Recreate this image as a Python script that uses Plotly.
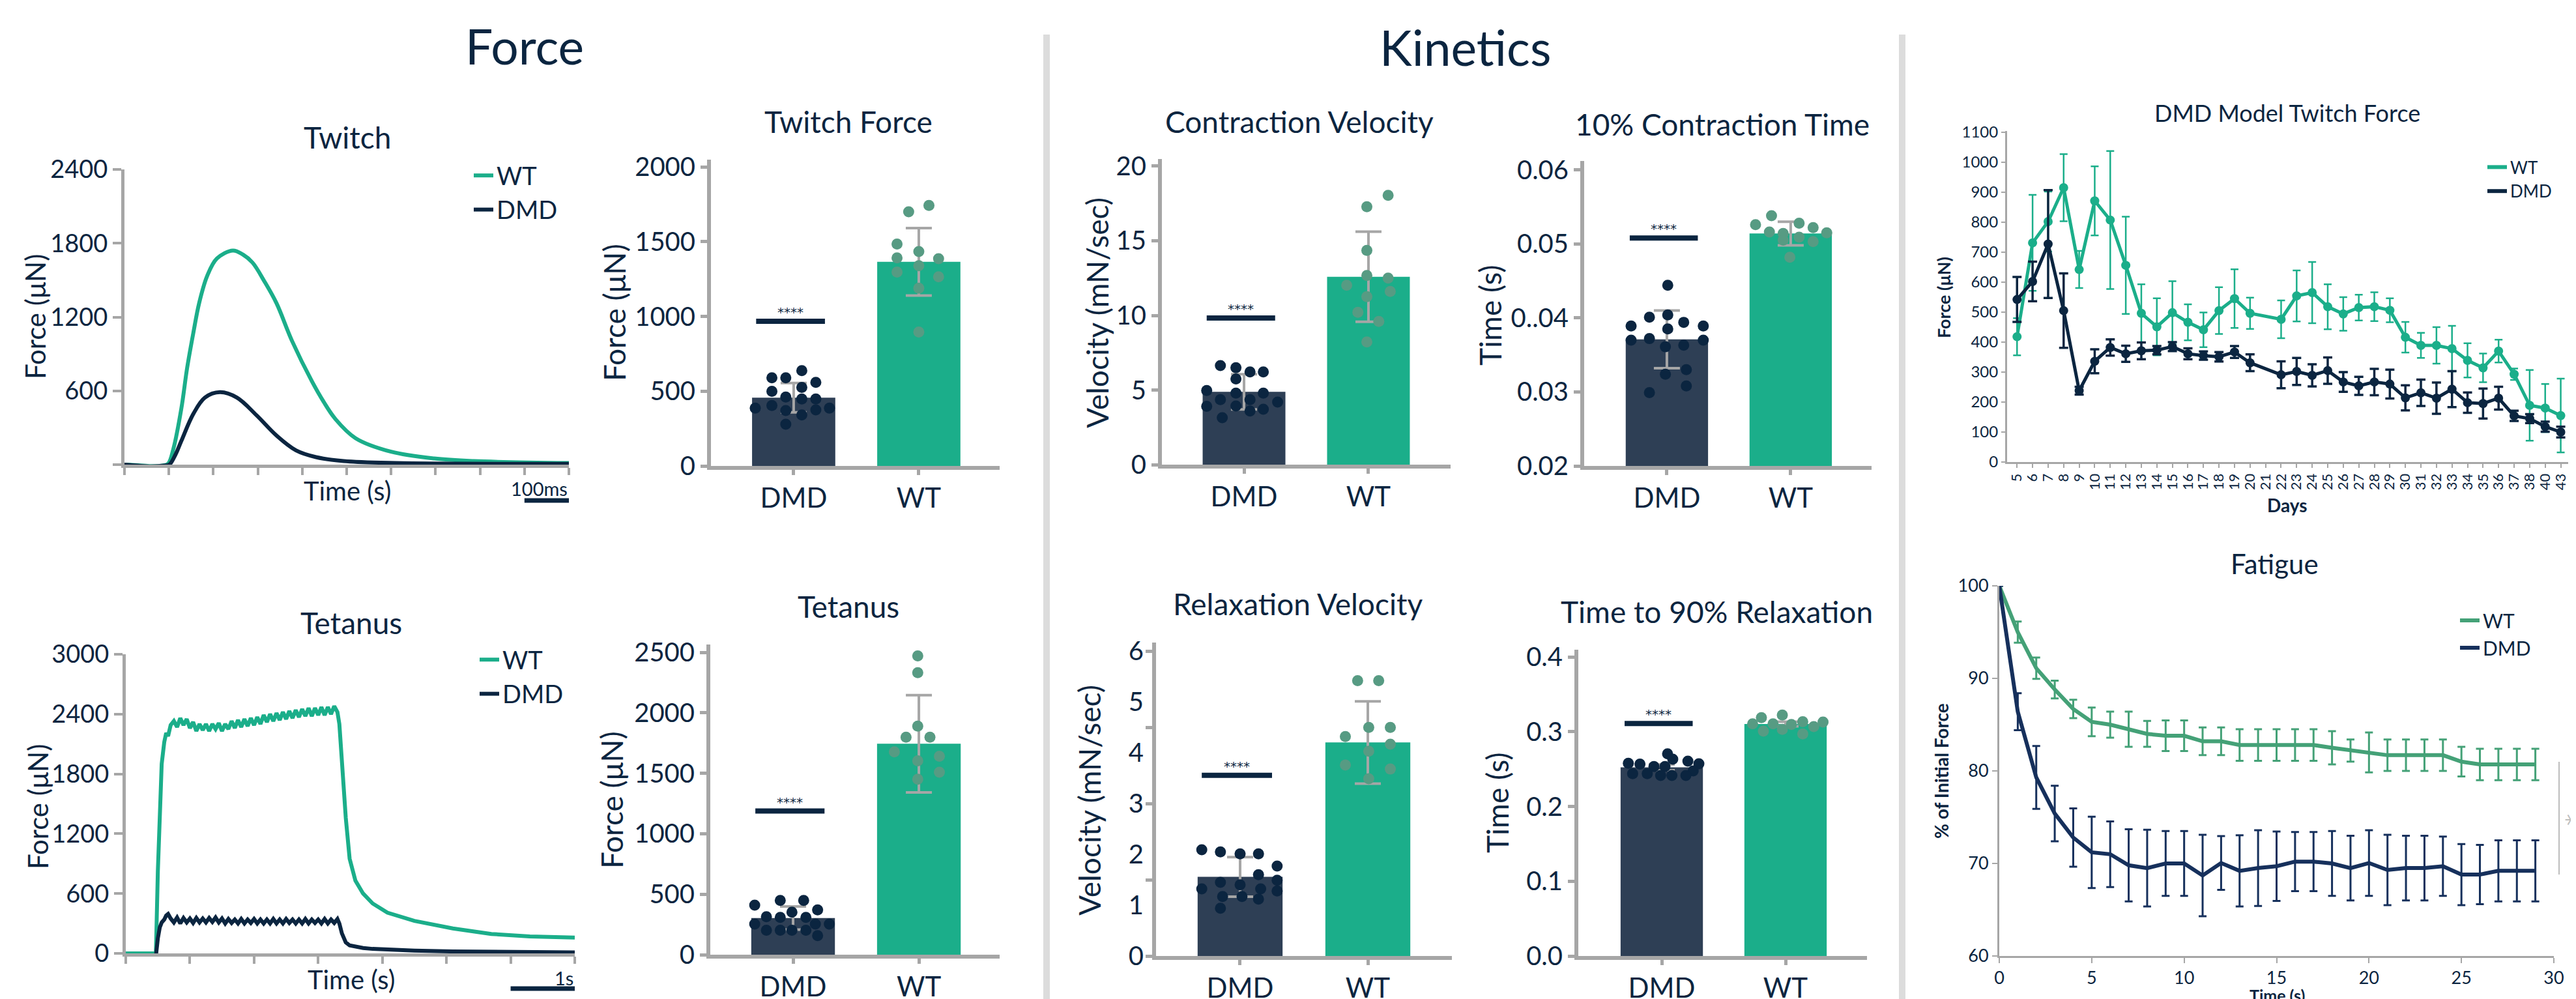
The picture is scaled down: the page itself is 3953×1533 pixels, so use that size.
import plotly.graph_objects as go

# ---------------- data ----------------
# Twitch trace (time in ms, force in uN)
twitch_wt_t = [0, 30, 60, 90, 99, 110, 128, 141, 155, 168, 186, 208, 244, 266, 288, 315, 342, 377, 422, 448, 475, 520, 600, 697, 786, 1000]
twitch_wt_f = [0, -5, -12, -5, 10, 127, 457, 786, 1072, 1313, 1533, 1676, 1741, 1709, 1643, 1489, 1313, 1006, 676, 512, 369, 215, 105, 50, 29, 13]
twitch_dmd_t = [0, 30, 60, 90, 101, 115, 128, 155, 181, 215, 253, 297, 342, 386, 431, 493, 609, 1000]
twitch_dmd_f = [0, -8, -14, -8, 0, 83, 193, 413, 545, 589, 545, 402, 237, 116, 61, 29, 13, 7]

# Tetanus trace (time in s, force in uN)
tet_t = [0.0, 0.2, 0.47, 0.50, 0.53, 0.56, 0.60, 0.63, 0.66,
         0.70, 0.75, 0.80, 0.85, 0.90, 0.95, 1.00, 1.05, 1.10, 1.15,
         1.20, 1.25, 1.30, 1.35, 1.40, 1.45, 1.50, 1.55, 1.60, 1.65,
         1.70, 1.75, 1.80, 1.85, 1.90, 1.95, 2.00, 2.05, 2.10, 2.15,
         2.20, 2.25, 2.30, 2.35, 2.40, 2.45, 2.50, 2.55, 2.60, 2.65,
         2.70, 2.75, 2.80, 2.85, 2.90, 2.95, 3.00, 3.05, 3.10, 3.15,
         3.20, 3.25, 3.30,
         3.33, 3.37, 3.43, 3.49, 3.58, 3.70, 3.85, 4.08, 4.50, 5.10, 5.70, 6.30, 7.00]
tet_wt = [0, 0, 0, 820, 1450, 1900, 2120, 2210, 2180,
          2290, 2330, 2270, 2360, 2290, 2350, 2260, 2320, 2230, 2300,
          2240, 2300, 2230, 2300, 2250, 2310, 2230, 2300, 2250, 2330,
          2260, 2340, 2270, 2350, 2280, 2360, 2290, 2370, 2300, 2390,
          2320, 2400, 2330, 2410, 2340, 2420, 2350, 2430, 2360, 2440,
          2370, 2450, 2380, 2460, 2380, 2460, 2390, 2470, 2390, 2470,
          2400, 2480, 2420,
          2300, 1900, 1360, 950, 730, 600, 500, 408, 326, 250, 195, 170, 158]
tet_dmd = [-25, -25, -25, 150, 260, 310, 340, 380, 395,
           350, 310, 360, 300, 355, 310, 350, 305, 355, 310,
           350, 310, 355, 315, 360, 310, 350, 300, 345, 305,
           340, 300, 345, 300, 340, 305, 345, 300, 340, 300,
           340, 300, 345, 300, 340, 300, 345, 305, 340, 300,
           340, 300, 345, 300, 340, 305, 340, 300, 345, 300,
           340, 305, 345,
           300, 200, 110, 80, 65, 54, 45, 37, 28, 19, 15, 12, 10]

groups = ["DMD", "WT"]

# Twitch Force
tf_means = [456, 1365]
tf_sd = [98, 225]
tf_dmd_vals = [637, 589, 589, 559, 499, 525, 461, 448, 448, 387, 404, 370, 375, 387, 341, 279]
tf_dmd_jit = [0.065, -0.174, -0.063, 0.177, -0.174, 0.065, -0.063, 0.065, 0.177, -0.307, -0.174, -0.063, 0.177, 0.286, 0.065, -0.063]
tf_wt_vals = [1742, 1699, 1484, 1434, 1391, 1386, 1339, 1296, 1265, 1188, 895]
tf_wt_jit = [0.081, -0.081, -0.174, 0.0, -0.174, 0.158, 0.0, -0.174, 0.158, 0.0, 0.0]
tf_sig = 967

# Contraction Velocity
cv_means = [4.88, 12.59]
cv_sd = [1.18, 3.02]
cv_dmd_vals = [6.64, 6.50, 6.21, 6.21, 5.74, 4.97, 4.79, 4.79, 4.36, 4.36, 4.19, 3.91, 3.93, 3.71, 3.59, 3.14]
cv_dmd_jit = [-0.19, -0.065, 0.048, 0.155, -0.065, -0.30, -0.065, 0.155, -0.19, 0.048, 0.27, -0.30, -0.065, 0.155, 0.048, -0.175]
cv_wt_vals = [18.05, 17.28, 14.36, 12.67, 12.5, 12.02, 11.6, 11.26, 10.21, 9.60, 8.22]
cv_wt_jit = [0.158, -0.013, -0.013, -0.013, 0.158, -0.175, 0.175, -0.013, -0.085, 0.083, -0.013]
cv_sig = 9.83

# 10% Contraction Time
ct_means = [0.0371, 0.0514]
ct_sd = [0.0039, 0.0016]
ct_dmd_vals = [0.0444, 0.0401, 0.0404, 0.0394, 0.0389, 0.0389, 0.0385, 0.0370, 0.0372, 0.0370, 0.0361, 0.0363, 0.0330, 0.0324, 0.0308, 0.0299]
ct_dmd_jit = [0.007, -0.141, 0.007, 0.136, -0.289, 0.294, 0.007, -0.289, -0.141, 0.294, -0.012, 0.136, 0.157, -0.012, 0.157, -0.141]
ct_wt_vals = [0.0538, 0.0526, 0.0528, 0.0522, 0.0516, 0.0514, 0.0515, 0.0509, 0.0505, 0.0503, 0.0482]
ct_wt_jit = [-0.155, -0.284, 0.068, 0.181, -0.172, -0.061, 0.291, 0.068, -0.061, 0.181, -0.007]
ct_sig = 0.0508
ct_ticks = [0.02, 0.03, 0.04, 0.05, 0.06]
ct_ticktext = ["0.02", "0.03", "0..04", "0.05", "0.06"]

# Tetanus bar
tb_means = [303, 1744]
tb_sd = [96, 402]
tb_dmd_vals = [448, 448, 410, 370, 352, 314, 309, 309, 253, 253, 253, 202, 202, 202, 202, 157]
tb_dmd_jit = [-0.102, 0.084, -0.305, 0.195, -0.009, -0.212, -0.102, 0.102, -0.305, 0.177, 0.288, -0.212, -0.102, -0.009, 0.102, 0.195]
tb_wt_vals = [2471, 2332, 1890, 1798, 1798, 1677, 1641, 1603, 1509, 1451]
tb_wt_jit = [-0.009, -0.009, -0.009, -0.102, 0.088, -0.195, 0.163, -0.009, 0.163, -0.009]
tb_sig = 1188

# Relaxation Velocity
rv_means = [1.557, 4.203]
rv_sd = [0.39, 0.81]
rv_dmd_vals = [2.09, 2.05, 2.01, 2.01, 1.77, 1.60, 1.49, 1.45, 1.40, 1.32, 1.32, 1.28, 1.17, 1.17, 1.12, 0.94]
rv_dmd_jit = [-0.30, -0.154, 0.0, 0.144, 0.29, 0.144, 0.29, -0.154, 0.0, -0.30, 0.161, 0.29, -0.137, 0.015, 0.144, -0.154]
rv_wt_vals = [5.42, 5.42, 4.50, 4.50, 4.32, 4.17, 4.03, 3.76, 3.68, 3.49]
rv_wt_jit = [-0.08, 0.085, 0.007, 0.176, -0.176, 0.176, 0.007, -0.176, 0.176, 0.007]
rv_sig = 3.557
rv_tickmarks = [0, 1.5, 3, 4.5, 6]
rv_ticklabels = [0, 1, 2, 3, 4, 5, 6]

# Time to 90% Relaxation
rt_means = [0.2523, 0.3103]
rt_sd = [0.004, 0.003]
rt_dmd_vals = [0.2704, 0.2632, 0.2577, 0.2566, 0.2606, 0.2570, 0.2534, 0.2534, 0.2439, 0.2439, 0.2476, 0.2414, 0.2414, 0.2414]
rt_dmd_jit = [0.047, 0.089, -0.27, -0.176, 0.211, 0.30, -0.063, 0.026, -0.235, -0.117, 0.254, -0.009, 0.082, 0.195]
rt_wt_vals = [0.3223, 0.3187, 0.3104, 0.3104, 0.3096, 0.3133, 0.3129, 0.3067, 0.3006, 0.3031, 0.2969]
rt_wt_jit = [-0.026, -0.195, -0.266, -0.101, 0.047, 0.139, 0.303, 0.228, -0.179, -0.026, 0.139]
rt_sig = 0.311

# DMD Model Twitch Force
days = ["5", "6", "7", "8", "9", "10", "11", "12", "13", "14", "15", "16", "17", "18", "19", "20", "21",
        "22", "23", "24", "25", "26", "27", "28", "29", "30", "31", "32", "33", "34", "35", "36", "37", "38", "40", "43"]
model_wt = [418, 731, 802, 915, 642, 871, 807, 656, 496, 451, 498, 466, 441, 505, 545, 496, None,
            476, 554, 565, 518, 494, 515, 518, 506, 416, 389, 389, 378, 339, 314, 370, 293, 189, 180, 155]
model_wt_err = [62, 160, 100, 112, 62, 115, 230, 162, 97, 95, 105, 60, 58, 78, 98, 52, None,
                63, 85, 102, 75, 56, 43, 48, 40, 51, 42, 61, 76, 57, 48, 38, 19, 118, 80, 123]
model_dmd = [542, 602, 727, 505, 238, 336, 382, 361, 371, 373, 385, 361, 355, 351, 367, 331, None,
             291, 302, 289, 305, 267, 254, 267, 260, 214, 231, 213, 243, 198, 195, 213, 154, 145, 118, 100]
model_dmd_err = [75, 66, 180, 124, 13, 40, 27, 27, 28, 14, 15, 18, 14, 16, 20, 28, None,
                 45, 45, 37, 44, 33, 30, 44, 48, 42, 44, 52, 60, 34, 50, 38, 17, 15, 17, 18]

# Fatigue
fat_t = [0, 1, 2, 3, 4, 5, 6, 7, 8, 9, 10, 11, 12, 13, 14, 15, 16, 17, 18, 19, 20, 21, 22, 23, 24, 25, 26, 27, 28, 29]
fat_wt = [100, 95.0, 91.1, 88.8, 86.7, 85.3, 85.0, 84.5, 84.0, 83.8, 83.8, 83.2, 83.2, 82.8, 82.8, 82.8, 82.8, 82.8,
          82.5, 82.2, 82.0, 81.7, 81.7, 81.7, 81.7, 81.0, 80.7, 80.7, 80.7, 80.7]
fat_wt_err = [None, 1.15, 1.15, 0.96, 1.0, 1.55, 1.4, 1.9, 1.4, 1.65, 1.65, 1.5, 1.5, 1.7, 1.7, 1.7, 1.7, 1.7,
              1.8, 1.2, 2.15, 1.7, 1.7, 1.7, 1.7, 1.6, 1.7, 1.7, 1.7, 1.7]
fat_dmd = [100, 86.4, 79.3, 75.4, 72.8, 71.2, 71.0, 69.8, 69.5, 70.0, 70.0, 68.7, 70.05, 69.2, 69.5, 69.7, 70.2, 70.2,
           70.0, 69.5, 70.05, 69.3, 69.5, 69.5, 69.7, 68.8, 68.8, 69.2, 69.2, 69.2]
fat_dmd_err = [None, 2.0, 3.4, 3.0, 3.15, 3.85, 3.55, 3.9, 4.15, 3.5, 3.5, 4.4, 2.9, 3.85, 4.1, 3.75, 3.2, 3.2,
               3.5, 3.5, 3.55, 3.8, 3.5, 3.5, 3.2, 3.3, 3.2, 3.3, 3.3, 3.3]

# ---------------- style ----------------
W, H = 3953, 1533
OFF = 8  # page body margin that offsets the figure on screen
NAVY = "#0b2540"
TEAL = "#1bae8a"
BAR_DMD = "#2e3f55"
DOT_WT = "#579b83"
GRAY = "#a6a6a6"
SEP = "#dcdcdc"
FAT_WT = "#44a177"
FAT_DMD = "#16305c"
FONT = "Lato"


def fx(p):
    return (p - OFF) / W


def fy(p):
    return 1 - (p - OFF) / H


def axn(kind, n):
    return f"{kind}axis" if n == 1 else f"{kind}axis{n}"


def rf(kind, n):
    return kind if n == 1 else f"{kind}{n}"


fig = go.Figure()
layout = dict(width=W, height=H, margin=dict(l=0, r=0, t=0, b=0, pad=0, autoexpand=False),
              paper_bgcolor="white", plot_bgcolor="white", template="none",
              font=dict(family=FONT, color=NAVY), showlegend=True)
shapes = []
annotations = []


def text(t, x, y, size, angle=0, xanchor="center", yanchor="middle", color=NAVY, xref="paper", yref="paper", family=FONT):
    annotations.append(dict(text=t, x=x, y=y, xref=xref, yref=yref, showarrow=False,
                            xanchor=xanchor, yanchor=yanchor, textangle=angle,
                            font=dict(family=family, size=size, color=color)))


def bar_panel(n, xdom, ydom, xrange, yrange, ytickvals, yticktext, means, sds,
              dvals, djit, wvals, wjit, sig, title, txy, ytitle, ytxy, dot_y=None, ylabels=True):
    xr, yr = rf("x", n), rf("y", n)
    fig.add_trace(go.Bar(x=[0, 1], y=means, width=0.665,
                         marker=dict(color=[BAR_DMD, TEAL], line=dict(width=0)),
                         error_y=dict(type="data", array=sds, color=GRAY, thickness=4, width=20),
                         xaxis=xr, yaxis=yr, showlegend=False, hoverinfo="skip"))
    dy = dot_y or yr
    fig.add_trace(go.Scatter(x=[0 + j for j in djit], y=dvals, mode="markers",
                             marker=dict(size=17, color=NAVY, line=dict(width=0)),
                             xaxis=xr, yaxis=dy, showlegend=False))
    fig.add_trace(go.Scatter(x=[1 + j for j in wjit], y=wvals, mode="markers",
                             marker=dict(size=17, color=DOT_WT, line=dict(width=0)),
                             xaxis=xr, yaxis=dy, showlegend=False))
    layout[axn("x", n)] = dict(domain=[fx(xdom[0]), fx(xdom[1])], anchor=yr, range=xrange,
                               tickvals=[0, 1], ticktext=groups, ticks="outside", ticklen=8,
                               tickwidth=5, tickcolor=GRAY, showline=True, linecolor=GRAY,
                               linewidth=6, showgrid=False, zeroline=False, automargin=False,
                               tickfont=dict(size=42, color=NAVY, family=FONT))
    layout[axn("y", n)] = dict(domain=[fy(ydom[1]), fy(ydom[0])], anchor=xr, range=yrange,
                               tickvals=ytickvals, ticktext=yticktext, ticks="outside", ticklen=10,
                               tickwidth=5, tickcolor=GRAY, showline=True, linecolor=GRAY,
                               linewidth=6, showgrid=False, zeroline=False, showticklabels=ylabels,
                               automargin=False, tickfont=dict(size=40, color=NAVY, family=FONT))
    shapes.append(dict(type="line", xref=xr, yref=yr, x0=-0.30, x1=0.25, y0=sig, y1=sig,
                       line=dict(color=NAVY, width=8)))
    text("****", -0.025, sig, 20, xanchor="center", yanchor="bottom", xref=xr, yref=yr,
         family="DejaVu Sans")
    text(title, fx(txy[0]), fy(txy[1]), 46)
    text(ytitle, fx(ytxy[0]), fy(ytxy[1]), 46, angle=-90)


# ---- Twitch trace (1)
fig.add_trace(go.Scatter(x=twitch_wt_t, y=twitch_wt_f, mode="lines", name="WT",
                         line=dict(color=TEAL, width=6, shape="spline"), legend="legend"))
fig.add_trace(go.Scatter(x=twitch_dmd_t, y=twitch_dmd_f, mode="lines", name="DMD",
                         line=dict(color=NAVY, width=6, shape="spline"), legend="legend"))
layout["xaxis"] = dict(domain=[fx(191), fx(873)], anchor="y", range=[0, 1000],
                       tickvals=[0, 100, 200, 300, 400, 500, 600, 700, 800, 900, 1000],
                       showticklabels=False, ticks="outside", ticklen=11, tickwidth=4, tickcolor=GRAY,
                       showline=True, linecolor=GRAY, linewidth=5, showgrid=False, zeroline=False,
                       automargin=False)
layout["yaxis"] = dict(domain=[fy(713), fy(260)], anchor="x", range=[0, 2400],
                       tickvals=[0, 600, 1200, 1800, 2400], ticktext=["", "600", "1200", "1800", "2400"],
                       ticks="outside", ticklen=13, tickwidth=4, tickcolor=GRAY,
                       showline=True, linecolor=GRAY, linewidth=5, showgrid=False, zeroline=False,
                       automargin=False, tickfont=dict(size=38, color=NAVY, family=FONT))
text("Twitch", fx(533), fy(210), 46)
text("Force (μN)", fx(54), fy(486), 42, angle=-90)
text("Time (s)", fx(533), fy(753), 40)
shapes.append(dict(type="line", xref="x", yref="paper", x0=900, x1=1000, y0=fy(768), y1=fy(768),
                   line=dict(color=NAVY, width=7)))
text("100ms", 1000, fy(749), 29, xanchor="right", xref="x")

# ---- Tetanus trace (6)
fig.add_trace(go.Scatter(x=tet_t, y=tet_wt, mode="lines", name="WT", line=dict(color=TEAL, width=6),
                         xaxis="x6", yaxis="y6", legend="legend2"))
fig.add_trace(go.Scatter(x=tet_t, y=tet_dmd, mode="lines", name="DMD", line=dict(color=NAVY, width=6),
                         xaxis="x6", yaxis="y6", legend="legend2"))
layout["xaxis6"] = dict(domain=[fx(193), fx(882)], anchor="y6", range=[0, 7],
                        tickvals=[0, 1, 2, 3, 4, 5, 6, 7], showticklabels=False, ticks="outside",
                        ticklen=11, tickwidth=4, tickcolor=GRAY, showline=True, linecolor=GRAY,
                        linewidth=5, showgrid=False, zeroline=False, automargin=False)
layout["yaxis6"] = dict(domain=[fy(1463), fy(1004)], anchor="x6", range=[0, 3000],
                        tickvals=[0, 600, 1200, 1800, 2400, 3000], ticks="outside", ticklen=13,
                        tickwidth=4, tickcolor=GRAY, showline=True, linecolor=GRAY, linewidth=5,
                        showgrid=False, zeroline=False, automargin=False,
                        tickfont=dict(size=38, color=NAVY, family=FONT))
text("Tetanus", fx(539), fy(955), 46)
text("Force (μN)", fx(58), fy(1238), 42, angle=-90)
text("Time (s)", fx(539), fy(1503), 40)
shapes.append(dict(type="line", xref="x6", yref="paper", x0=6, x1=7, y0=fy(1517), y1=fy(1517),
                   line=dict(color=NAVY, width=7)))
text("1s", 7, fy(1500), 29, xanchor="right", xref="x6")

# ---- Bar panels
bar_panel(2, (1091, 1534), (245, 715), [-0.661, 1.646], [0, 2048], [0, 500, 1000, 1500, 2000], None,
          tf_means, tf_sd, tf_dmd_vals, tf_dmd_jit, tf_wt_vals, tf_wt_jit, tf_sig,
          "Twitch Force", (1302, 186), "Force (μN)", (942, 480))
bar_panel(3, (1783, 2226), (244, 713), [-0.66, 1.66], [0, 20.48], [0, 5, 10, 15, 20], None,
          cv_means, cv_sd, cv_dmd_vals, cv_dmd_jit, cv_wt_vals, cv_wt_jit, cv_sig,
          "Contraction Velocity", (1994, 186), "Velocity (mN/sec)", (1683, 480))
bar_panel(4, (2431, 2872), (247, 715), [-0.668, 1.653], [0.02, 0.0612], ct_ticks, ct_ticktext,
          ct_means, ct_sd, ct_dmd_vals, ct_dmd_jit, ct_wt_vals, ct_wt_jit, ct_sig,
          "10% Contraction Time", (2643, 190), "Time (s)", (2286, 484))
bar_panel(7, (1090, 1534), (989, 1465), [-0.658, 1.642], [0, 2565], [0, 500, 1000, 1500, 2000, 2500], None,
          tb_means, tb_sd, tb_dmd_vals, tb_dmd_jit, tb_wt_vals, tb_wt_jit, tb_sig,
          "Tetanus", (1302, 930), "Force (μN)", (938, 1228))
bar_panel(8, (1774, 2228), (986, 1467), [-0.658, 1.658], [0, 6.17], rv_tickmarks, None,
          rv_means, rv_sd, rv_dmd_vals, rv_dmd_jit, rv_wt_vals, rv_wt_jit, rv_sig,
          "Relaxation Velocity", (1991, 926), "Velocity (mN/sec)", (1671, 1228), dot_y="y11", ylabels=False)
layout["yaxis11"] = dict(overlaying="y8", anchor="x8", side="left", range=[0, 6.17],
                         tickvals=rv_ticklabels, ticks="outside", ticklen=10, tickwidth=5,
                         tickcolor="rgba(0,0,0,0)", showline=False, showgrid=False, zeroline=False,
                         automargin=False, tickfont=dict(size=40, color=NAVY, family=FONT))
bar_panel(9, (2422, 2865), (997, 1467), [-0.674, 1.658], [0, 0.4096], [0, 0.1, 0.2, 0.3, 0.4],
          ["0.0", "0.1", "0.2", "0.3", "0.4"],
          rt_means, rt_sd, rt_dmd_vals, rt_dmd_jit, rt_wt_vals, rt_wt_jit, rt_sig,
          "Time to 90% Relaxation", (2634, 938), "Time (s)", (2297, 1232))

# ---- DMD Model Twitch Force (5)
fig.add_trace(go.Scatter(x=days, y=model_wt, mode="lines+markers", connectgaps=True, showlegend=False,
                         line=dict(color=TEAL, width=5), marker=dict(size=14, color=TEAL),
                         error_y=dict(type="data", array=model_wt_err, color=TEAL, thickness=2.5, width=6),
                         xaxis="x5", yaxis="y5"))
fig.add_trace(go.Scatter(x=days, y=model_dmd, mode="lines+markers", connectgaps=True, showlegend=False,
                         line=dict(color=NAVY, width=5), marker=dict(size=14, color=NAVY),
                         error_y=dict(type="data", array=model_dmd_err, color=NAVY, thickness=3.5, width=7),
                         xaxis="x5", yaxis="y5"))
fig.add_trace(go.Scatter(x=[None], y=[None], mode="lines", name="WT", line=dict(color=TEAL, width=6),
                         xaxis="x5", yaxis="y5", legend="legend3"))
fig.add_trace(go.Scatter(x=[None], y=[None], mode="lines", name="DMD", line=dict(color=NAVY, width=6),
                         xaxis="x5", yaxis="y5", legend="legend3"))
layout["xaxis5"] = dict(domain=[fx(3080), fx(3941)], anchor="y5", type="category",
                        categoryorder="array", categoryarray=days, range=[-0.64, 35.48],
                        tickmode="array", tickvals=days, ticktext=days,
                        tickangle=-90, ticks="outside", ticklen=6, tickwidth=2, tickcolor=GRAY,
                        showline=True, linecolor=GRAY, linewidth=3, showgrid=False, zeroline=False,
                        automargin=False, tickfont=dict(size=22, color=NAVY, family=FONT))
layout["yaxis5"] = dict(domain=[fy(709), fy(201)], anchor="x5", range=[0, 1104],
                        tickvals=[0, 100, 200, 300, 400, 500, 600, 700, 800, 900, 1000, 1100],
                        ticks="outside", ticklen=6, tickwidth=2, tickcolor=GRAY,
                        showline=True, linecolor=GRAY, linewidth=3, showgrid=False, zeroline=False,
                        automargin=False, tickfont=dict(size=24, color=NAVY, family=FONT))
text("DMD Model Twitch Force", fx(3510), fy(173), 36)
text("<b>Force (μN)</b>", fx(2982), fy(457), 27, angle=-90)
text("<b>Days</b>", fx(3510), fy(775), 28)

# ---- Fatigue (10)
fig.add_trace(go.Scatter(x=fat_t, y=fat_wt, mode="lines", name="WT", line=dict(color=FAT_WT, width=6),
                         error_y=dict(type="data", array=fat_wt_err, color=FAT_WT, thickness=3, width=6),
                         xaxis="x10", yaxis="y10", legend="legend4"))
fig.add_trace(go.Scatter(x=fat_t, y=fat_dmd, mode="lines", name="DMD", line=dict(color=FAT_DMD, width=6),
                         error_y=dict(type="data", array=fat_dmd_err, color=FAT_DMD, thickness=3, width=6),
                         xaxis="x10", yaxis="y10", legend="legend4"))
layout["xaxis10"] = dict(domain=[fx(3068), fx(3919)], anchor="y10", range=[0, 30],
                         tickvals=[0, 5, 10, 15, 20, 25, 30], ticks="outside", ticklen=8, tickwidth=2,
                         tickcolor=GRAY, showline=True, linecolor=GRAY, linewidth=3, showgrid=False,
                         zeroline=False, automargin=False, tickfont=dict(size=27, color=NAVY, family=FONT))
layout["yaxis10"] = dict(domain=[fy(1467), fy(899)], anchor="x10", range=[60, 100],
                         tickvals=[60, 70, 80, 90, 100], ticks="outside", ticklen=8, tickwidth=2,
                         tickcolor=GRAY, showline=True, linecolor=GRAY, linewidth=3, showgrid=False,
                         zeroline=False, automargin=False, tickfont=dict(size=27, color=NAVY, family=FONT))
text("Fatigue", fx(3490), fy(865), 42)
text("<b>% of Initial Force</b>", fx(2979), fy(1183), 28, angle=-90)
text("<b>Time (s)</b>", fx(3494), fy(1510), 25, yanchor="top")
shapes.append(dict(type="line", xref="paper", yref="paper", x0=fx(3927), x1=fx(3927), y0=fy(1169), y1=fy(1342),
                   line=dict(color="#bdbdbd", width=2)))
text("*", fx(3940), fy(1258), 36, angle=90, color="#bdbdbd", family="DejaVu Sans")

# ---- section headers and separators
text("Force", fx(805), fy(70), 75)
text("Kinetics", fx(2248), fy(72), 75)
for sx in (1606, 2919):
    shapes.append(dict(type="line", xref="paper", yref="paper", x0=fx(sx), x1=fx(sx), y0=fy(53), y1=0,
                       line=dict(color=SEP, width=10)))


# ---- legends
def leg(x, y, size):
    return dict(x=fx(x), y=fy(y), xanchor="left", yanchor="top", bgcolor="rgba(0,0,0,0)", borderwidth=0,
                tracegroupgap=0, itemwidth=30, traceorder="normal",
                font=dict(size=size, color=NAVY, family=FONT))


layout["legend"] = leg(722, 238, 38)
layout["legend2"] = leg(731, 981, 38)
layout["legend3"] = leg(3812, 233, 26)
layout["legend4"] = leg(3770, 926, 30)

layout["shapes"] = shapes
layout["annotations"] = annotations
fig.update_layout(**layout)
fig.write_html("out.html")
